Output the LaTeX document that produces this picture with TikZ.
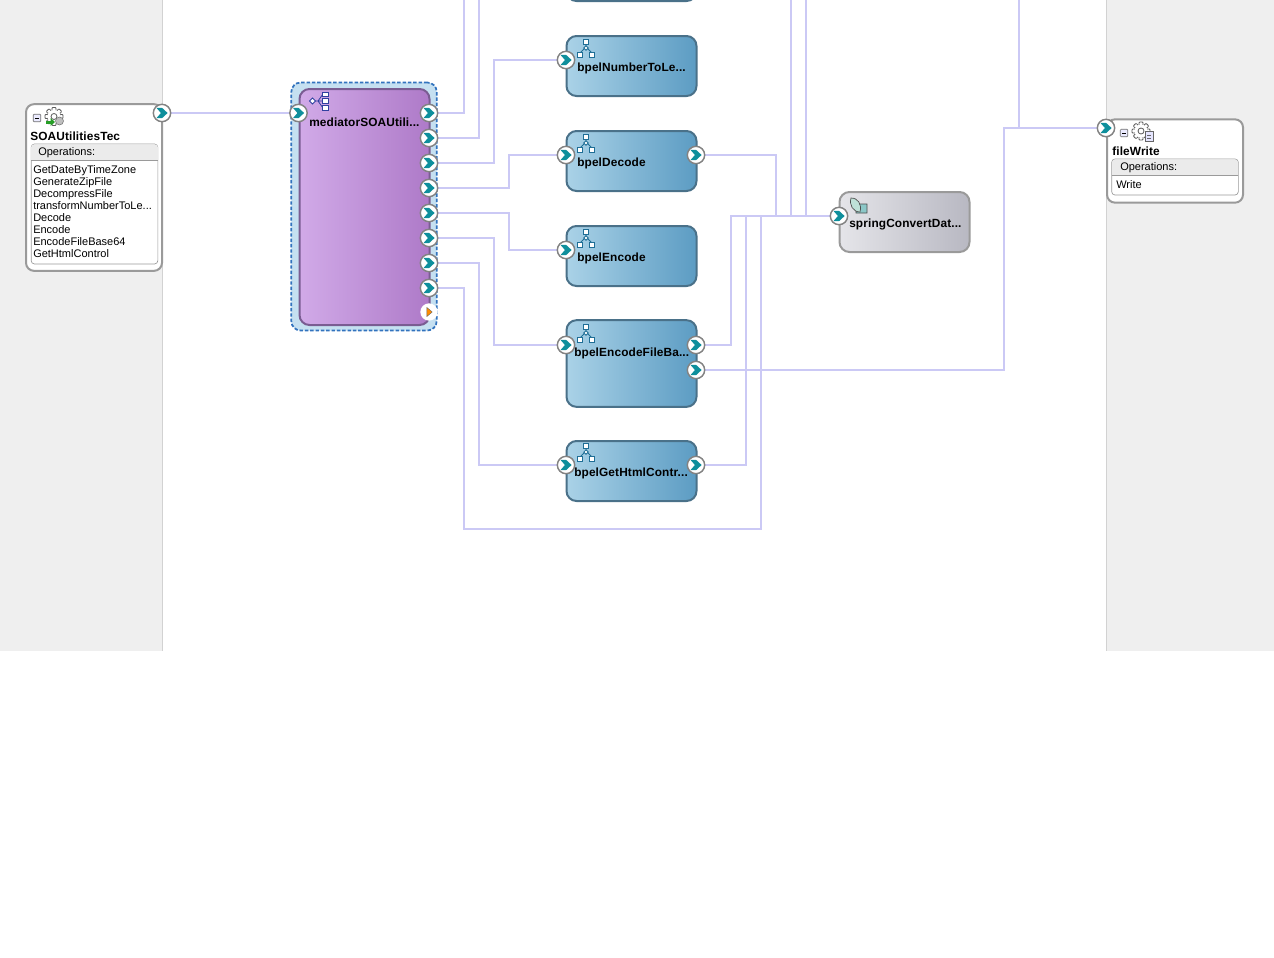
\documentclass[tikz,border=0pt]{standalone}
\usepackage{fontspec}
\setmainfont{Liberation Sans}
\newfontfamily\spacedbold[LetterSpace=1]{Liberation Sans Bold}
\usetikzlibrary{calc}
\pgfdeclarelayer{panel}
\pgfdeclarelayer{wire}
\pgfsetlayers{panel,wire,main}
\definecolor{wirec}{HTML}{CBC9F5}
\definecolor{panelc}{HTML}{EFEFEF}
\definecolor{edgec}{HTML}{D2D2D2}
\definecolor{grayb}{HTML}{9A9A9A}
\definecolor{tealc}{HTML}{0E8F9C}
\definecolor{blueb}{HTML}{4A7189}
\definecolor{iconb}{HTML}{1F6E96}
\definecolor{medicon}{HTML}{3040A0}
\definecolor{hdr}{HTML}{EBEBEB}
\tikzset{
  wireline/.style={draw=wirec,line width=1.5pt,line join=miter},
  bpelbox/.style={draw=blueb,line width=1.5pt,rounded corners=7.5pt,left color={rgb,255:red,170;green,210;blue,231},right color={rgb,255:red,92;green,156;blue,195},minimum width=97.5pt,inner sep=0pt},
  medbox/.style={draw={rgb,255:red,122;green,92;blue,146},line width=1.5pt,rounded corners=7.5pt,left color={rgb,255:red,209;green,170;blue,232},right color={rgb,255:red,174;green,122;blue,200},inner sep=0pt,minimum width=97.5pt,minimum height=177pt},
  medouter/.style={draw={rgb,255:red,50;green,115;blue,190},fill={rgb,255:red,197;green,224;blue,241},line width=1.3pt,dash pattern=on 2.6pt off 1.4pt,rounded corners=7pt,inner sep=0pt,minimum width=109pt,minimum height=186pt},
  springbox/.style={draw=grayb,line width=1.5pt,rounded corners=7.5pt,left color={rgb,255:red,229;green,229;blue,233},right color={rgb,255:red,184;green,184;blue,194},minimum width=97.5pt,minimum height=45pt,inner sep=0pt},
  refbox/.style={draw=grayb,fill=white,line width=1.5pt,rounded corners=6pt,minimum width=102pt,inner sep=0pt},
  opsbox/.style={draw=grayb,fill=white,line width=.5pt,rounded corners=2.5pt,minimum width=95pt,inner sep=0pt},
  bname/.style={font=\spacedbold\fontsize{8.9}{9}\selectfont,anchor=west,inner sep=0pt,text=black},
  opname/.style={font=\fontsize{8.25}{9}\selectfont,anchor=north west,align=left,inner sep=0pt,text=black},
  portn/.style={circle,draw=grayb!85!black,fill=white,line width=1.1pt,minimum size=13pt,inner sep=0pt,
    path picture={
      \fill[tealc] ($(path picture bounding box.center)+(-4.2pt,3.9pt)$) -- ++(4.2pt,0) -- ++(4.2pt,-3.9pt) -- ++(-4.2pt,-3.9pt) -- ++(-4.2pt,0) -- ++(3.4pt,3.9pt) -- cycle;
    }},
  faultn/.style={circle,draw=none,fill=white,minimum size=13pt,inner sep=0pt,
    path picture={
      \fill[orange!90!yellow,draw=black!60,line width=.3pt] ($(path picture bounding box.center)+(-1.6pt,3.4pt)$) -- ++(4pt,-3.4pt) -- ++(-4pt,-3.4pt) -- cycle;
    }},
  iconline/.style={draw=iconb,line width=.6pt},
}
\newcommand{\treeicon}[2]{%
  \begin{scope}[shift={(#1,#2)}]
    \draw[iconline] (0,-4) -- (0,0) (-1,0) -- (-6,5) (1,0) -- (6,5);
    \draw[iconline,fill=white] (-2.7,-9) rectangle (2.7,-3.8);
    \draw[iconline,fill=white] (0,-2.2) -- (2.2,0) -- (0,2.2) -- (-2.2,0) -- cycle;
    \draw[iconline,fill=white] (-9,4) rectangle (-4,9);
    \draw[iconline,fill=white] (3.5,4) rectangle (8.5,9);
  \end{scope}}
\newcommand{\gearicon}[2]{%
  \begin{scope}[shift={(#1,#2)}]
    \foreach \a in {0,45,...,315}{\draw[draw=black!65,fill=white,line width=.6pt,rounded corners=.6pt] (\a:5.6) ++(\a+90:2) -- ++(\a:3.4) -- ++(\a-90:4) -- ++(\a+180:3.4) -- cycle;}
    \fill[white] (0,0) circle (6.6);
    \draw[draw=black!65,line width=.6pt] (0,0) circle (3);
  \end{scope}}
\newcommand{\minusbox}[2]{%
  \draw[draw=black!55,fill=blue!8!white,line width=.5pt,rounded corners=.8pt] (#1-3.8,#2-3.8) rectangle (#1+3.8,#2+3.8);
  \draw[black,line width=.7pt] (#1-2.2,#2) -- (#1+2.2,#2);}
\begin{document}
\begin{tikzpicture}[x=0.75pt,y=-0.75pt]
\useasboundingbox (0,0) rectangle (1274,957);
\clip (0,0) rectangle (1274,957);
\begin{pgfonlayer}{panel}
  \fill[white] (0,0) rectangle (1274,957);
  \fill[panelc] (0,0) rectangle (162.5,651);
  \fill[panelc] (1106.5,0) rectangle (1274,651);
  \draw[edgec,line width=.75pt] (162.5,0) -- (162.5,651);
  \draw[edgec,line width=.75pt] (1106.5,0) -- (1106.5,651);
\end{pgfonlayer}

% reference boxes
\node[refbox,minimum height=125pt] (soa) at (94,187.5) {};
\node[opsbox,minimum height=90pt] (soaops) at (94.5,204) {};
\fill[hdr] (31,160) {[rounded corners=2.5pt] -- (31,144.3) -- (158,144.3)} -- (158,160) -- cycle;
\draw[grayb,line width=.5pt] (31,160) -- (158,160);
\minusbox{37}{118}
\gearicon{54}{116.5}
\draw[draw=black!55,fill=black!25,line width=.4pt] (59.5,121) circle (4);
\fill[green!55!black!85!white] (46,120.5) rectangle (51,123.5);
\fill[green!55!black!85!white] (50.5,118) -- (55,122) -- (50.5,126) -- cycle;
\node[bname] (soat) at (30,136.5) {SOAUtilitiesTec};
\node[opname] (soah) at (38,147.5) {Operations:};
\node[opname] (soal) at (33,164.8) {GetDateByTimeZone\\GenerateZipFile\\DecompressFile\\transformNumberToLe...\\Decode\\Encode\\EncodeFileBase64\\GetHtmlControl};

\node[refbox,minimum height=62.5pt] (fw) at (1175,161) {};
\node[opsbox,minimum height=27pt] (fwops) at (1175,177) {};
\fill[hdr] (1112,175) {[rounded corners=2.5pt] -- (1112,159.3) -- (1238,159.3)} -- (1238,175) -- cycle;
\draw[grayb,line width=.5pt] (1112,175) -- (1238,175);
\minusbox{1124}{133}
\gearicon{1141}{131}
\draw[draw=black!60,fill=blue!10!white,line width=.4pt] (1145,131) rectangle (1153,141.5);
\draw[black!60,line width=.4pt] (1147,135) -- (1151,135) (1147,138) -- (1151,138);
\node[bname] (fwt) at (1112,151.5) {fileWrite};
\node[opname] (fwh) at (1120,162.5) {Operations:};
\node[opname] (fwl) at (1116,179.8) {Write};

% mediator
\node[medouter] (medo) at (364,206.5) {};
\node[medbox] (med) at (364.5,207) {};
\node[bname] (medt) at (309,122.5) {mediatorSOAUtili...};
\begin{scope}[shift={(319,101)}]
  \draw[draw=medicon,line width=.6pt] (-6,0) -- (4,0) (-1,0) -- (4,-7) (-1,0) -- (4,7);
  \draw[draw=medicon,fill=white,line width=.6pt] (-9.5,0) -- (-6.5,-3) -- (-3.5,0) -- (-6.5,3) -- cycle;
  \foreach \yy in {-9,-2.2,4.8}{\draw[draw=medicon,fill=white,line width=.6pt] (3.5,\yy) rectangle (9.5,\yy+4.4);}
\end{scope}

% bpel boxes
\node[bpelbox,minimum height=60pt] (bt) at (631.5,-39) {};
\node[bpelbox,minimum height=45pt] (bn) at (631.5,66) {};
\node[bpelbox,minimum height=45pt] (bd) at (631.5,161) {};
\node[bpelbox,minimum height=45pt] (be) at (631.5,256) {};
\node[bpelbox,minimum height=65pt] (bf) at (631.5,363.5) {};
\node[bpelbox,minimum height=45pt] (bh) at (631.5,471) {};
\node[springbox] (sp) at (904.5,222) {};
\treeicon{586}{48}
\treeicon{586}{143}
\treeicon{586}{238}
\treeicon{586}{333}
\treeicon{586}{452}
\node[bname] (bnt) at (577,68.5) {bpelNumberToLe...};
\node[bname] (bdt) at (577,163.5) {bpelDecode};
\node[bname] (bet) at (577,258.5) {bpelEncode};
\node[bname] (bft) at (574,353.5) {bpelEncodeFileBa...};
\node[bname] (bht) at (574,473.5) {bpelGetHtmlContr...};
\node[bname] (spt) at (849,224.5) {springConvertDat...};
% spring icon
\draw[draw=black!70,fill={rgb,255:red,140;green,200;blue,200},line width=.5pt] (856,205) -- (856,213) -- (867,213) -- (867,204) -- (860,204) -- cycle;
\draw[draw=black!70,fill={rgb,255:red,190;green,225;blue,215},line width=.5pt] (851,198) .. controls (858,198) and (862,204) .. (860,212) .. controls (853,212) and (849,205) .. (851,198) -- cycle;

% ports
\node[portn] (psoa) at (162,113) {};
\node[portn] (pfw) at (1106,128) {};
\node[portn] (mi) at (298.5,113) {};
\node[portn] (m1) at (429,113) {};
\node[portn] (m2) at (429,138) {};
\node[portn] (m3) at (429,163) {};
\node[portn] (m4) at (429,188) {};
\node[portn] (m5) at (429,213) {};
\node[portn] (m6) at (429,238) {};
\node[portn] (m7) at (429,263) {};
\node[portn] (m8) at (429,288) {};
\node[faultn] (mf) at (429,312) {};
\node[portn] (bni) at (566,60) {};
\node[portn] (bdi) at (566,155) {};
\node[portn] (bdo) at (696,155) {};
\node[portn] (bei) at (566,250) {};
\node[portn] (bfi) at (566,345) {};
\node[portn] (bfo) at (696,345) {};
\node[portn] (bfp) at (696,370) {};
\node[portn] (bhi) at (566,465) {};
\node[portn] (bho) at (696,465) {};
\node[portn] (spi) at (839,216) {};

% free ends and bends
\coordinate (t1) at (463.5,-2);
\coordinate (t2) at (478.5,-2);
\coordinate (t3) at (790.5,-2);
\coordinate (t4) at (805.5,-2);
\coordinate (t5) at (1018.5,-2);
\coordinate (v3) at (493.5,60);
\coordinate (v4) at (508.5,155);
\coordinate (v5) at (508.5,250);
\coordinate (v6) at (493.5,345);
\coordinate (v7) at (478.5,465);
\coordinate (v8a) at (463.5,529);
\coordinate (v8b) at (760.5,529);
\coordinate (vd) at (775.5,216);
\coordinate (vf) at (730.5,216);
\coordinate (vh) at (745.5,216);
\coordinate (vp) at (1003.5,128);

\begin{pgfonlayer}{wire}
  \draw[wireline] (psoa.center) -- (mi.center);
  \draw[wireline] (m1.center) -| (t1);
  \draw[wireline] (m2.center) -| (t2);
  \draw[wireline] (m3.center) -| (v3) -- (bni.center);
  \draw[wireline] (m4.center) -| (v4) -- (bdi.center);
  \draw[wireline] (m5.center) -| (v5) -- (bei.center);
  \draw[wireline] (m6.center) -| (v6) -- (bfi.center);
  \draw[wireline] (m7.center) -| (v7) -- (bhi.center);
  \draw[wireline] (m8.center) -| (v8a) -- (v8b) |- (spi.center);
  \draw[wireline] (bdo.center) -| (vd) -- (spi.center);
  \draw[wireline] (bfo.center) -| (vf) -- (spi.center);
  \draw[wireline] (bho.center) -| (vh) -- (spi.center);
  \draw[wireline] (bfp.center) -| (vp) -- (pfw.center);
  \draw[wireline] (t3) |- (spi.center);
  \draw[wireline] (t4) |- (spi.center);
  \draw[wireline] (t5) |- (pfw.center);
\end{pgfonlayer}
\end{tikzpicture}
\end{document}
